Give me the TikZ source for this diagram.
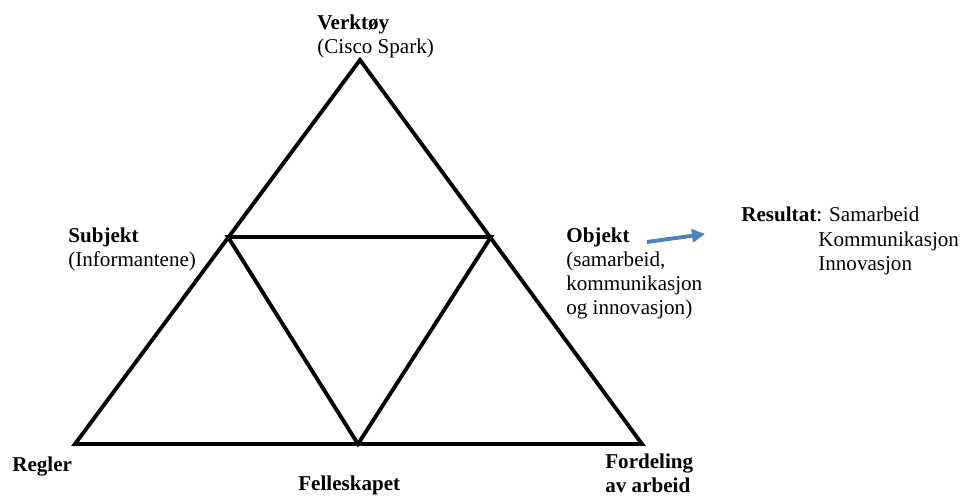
\documentclass[tikz,border=0pt]{standalone}
\usepackage{fontspec}
\setmainfont{Liberation Serif}
\usetikzlibrary{arrows.meta}
\definecolor{ArrowBlue}{HTML}{4F81BD}

\begin{document}
\begin{tikzpicture}[
  edge/.style={line width=2.2pt, black},
  lbl/.style={anchor=north west, inner sep=0pt, align=left, font=\fontsize{12}{13.5}\selectfont},
  arr/.style={-{Triangle[length=2.6mm,width=2.6mm]}, line width=2.2pt, ArrowBlue}
]
\useasboundingbox (0,0) rectangle (19.22,9.94);
% corners of the triangle
\coordinate (V) at (7.2,8.74);
\coordinate (R) at (1.5,1.06);
\coordinate (F) at (12.84,1.06);
\coordinate (S) at (4.56,5.2);
\coordinate (O) at (9.82,5.2);
\coordinate (B) at (7.16,1.06);
\draw[edge] (R) -- (V) -- (F) -- cycle;
\draw[edge] (S) -- (O) -- (B) -- cycle;
% labels
\node[lbl] (verk) at (6.34,9.64) {\textbf{Verktøy}\\(Cisco Spark)};
\node[lbl] (subj) at (1.36,5.38) {\textbf{Subjekt}\\(Informantene)};
\node[lbl] (obj) at (11.32,5.38) {\textbf{Objekt}\\(samarbeid,\\kommunikasjon\\og innovasjon)};
\node[lbl] (res) at (14.82,5.8) {\textbf{Resultat}: Samarbeid};
\node[lbl] (reslist) at (16.36,5.31) {Kommunikasjon\\Innovasjon};
\node[lbl] (regl) at (0.24,0.8) {\textbf{Regler}};
\node[lbl] (fell) at (5.96,0.42) {\textbf{Felleskapet}};
\node[lbl] (ford) at (12.1,0.86) {\textbf{Fordeling}\\\textbf{av arbeid}};
% arrow towards the result
\coordinate (a1) at (12.94,5.1);
\coordinate (a2) at (14.1,5.26);
\draw[arr] (a1) -- (a2);
\end{tikzpicture}
\end{document}
